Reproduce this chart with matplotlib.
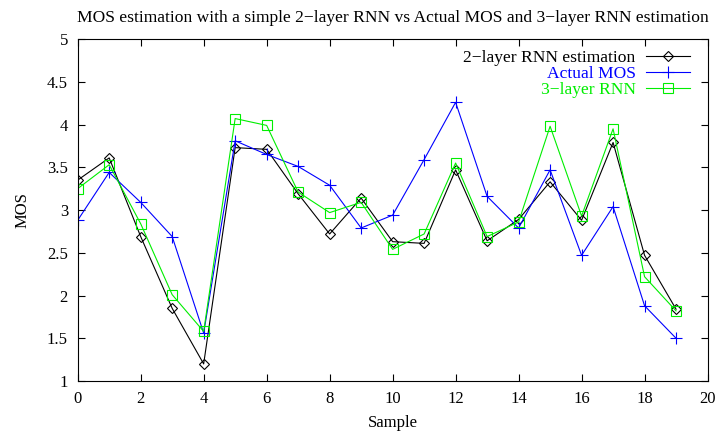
import matplotlib

matplotlib.use("Agg")
import matplotlib.pyplot as plt  # noqa: E402
from matplotlib.ticker import FuncFormatter  # noqa: E402

plt.rcParams["font.family"] = ["Liberation Serif", "DejaVu Serif"]

samples = list(range(20))
rnn2 = [3.35, 3.61, 2.69, 1.85, 1.20, 3.73, 3.71, 3.19, 2.72, 3.14,
        2.63, 2.61, 3.47, 2.64, 2.89, 3.33, 2.88, 3.79, 2.47, 1.84]
actual = [2.88, 3.44, 3.09, 2.69, 1.56, 3.81, 3.65, 3.51, 3.29, 2.79,
          2.94, 3.59, 4.26, 3.16, 2.79, 3.47, 2.47, 3.04, 1.88, 1.50]
rnn3 = [3.25, 3.53, 2.84, 2.01, 1.58, 4.07, 3.99, 3.21, 2.97, 3.09,
        2.54, 2.72, 3.55, 2.69, 2.86, 3.98, 2.93, 3.95, 2.22, 1.82]
labels = ["2\u2212layer RNN estimation", "Actual MOS", "3\u2212layer RNN"]
title = "MOS estimation with a simple 2\u2212layer RNN vs Actual MOS and 3\u2212layer RNN estimation"
x_ticks = list(range(0, 21, 2))
y_ticks = [1, 1.5, 2, 2.5, 3, 3.5, 4, 4.5, 5]

fig = plt.figure(figsize=(7.22, 4.34), dpi=100)
ax = fig.add_axes([0.1076, 0.1221, 0.8724, 0.7879])

ax.plot(samples, rnn2, color="black", lw=0.8, marker="D", ms=5.5,
        mfc="none", mec="black", mew=0.8, label=labels[0])
ax.plot(samples, actual, color="blue", lw=0.8, marker="+", ms=8,
        mew=0.8, label=labels[1])
ax.plot(samples, rnn3, color="#00ee00", lw=0.8, marker="s", ms=6.5,
        mfc="none", mec="#00ee00", mew=0.8, label=labels[2])

ax.set_xlim(0, 20)
ax.set_ylim(1, 5)
ax.set_xticks(x_ticks)
ax.set_yticks(y_ticks)
ax.yaxis.set_major_formatter(FuncFormatter(lambda v, _: f"{v:g}"))
ax.tick_params(direction="in", length=5, width=0.8, top=True, right=True,
               labelsize=12, pad=7)
for s in ax.spines.values():
    s.set_linewidth(0.8)

ax.set_title(title, fontsize=12.6, pad=12)
ax.set_xlabel("Sample", fontsize=12, labelpad=6)
ax.set_ylabel("MOS", fontsize=12, labelpad=12)

# gnuplot-style key: text right-aligned, sample to the right
leg = ax.legend(loc="upper right", markerfirst=False, frameon=False,
                fontsize=12.6, handlelength=2.5, handletextpad=0.6,
                labelspacing=0.0, borderaxespad=0, borderpad=0,
                bbox_to_anchor=(0.972, 0.969), labelcolor="linecolor")

fig.savefig("out.png", dpi=100)
